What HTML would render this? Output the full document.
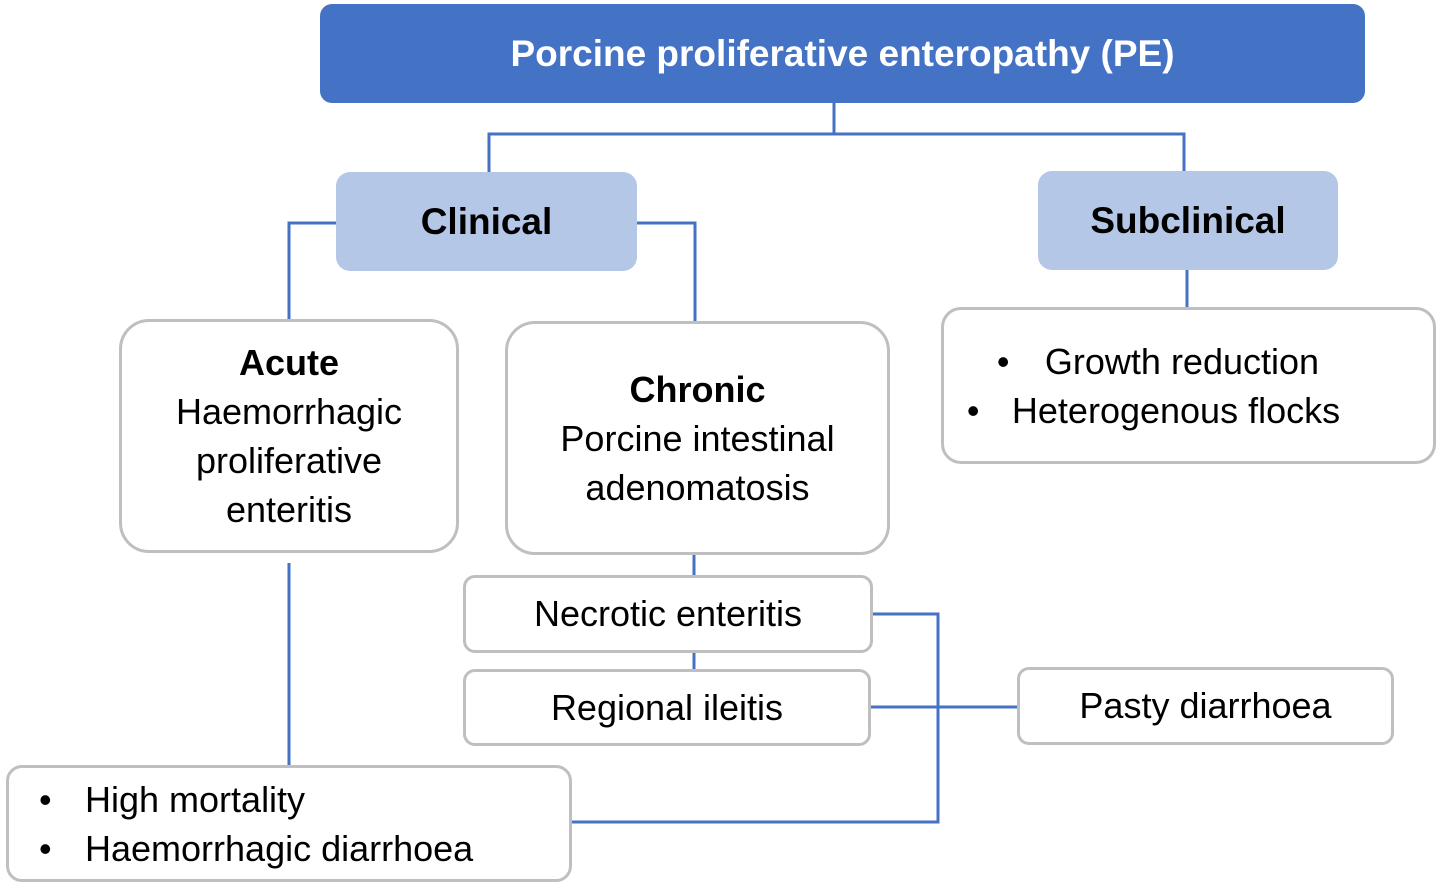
<!DOCTYPE html>
<html><head><meta charset="utf-8"><style>
body{margin:0;width:1441px;height:888px;background:#fff;position:relative;overflow:hidden;font-family:"Liberation Sans",Arial,sans-serif;}
.b{position:absolute;box-sizing:border-box;display:flex;align-items:center;justify-content:center;text-align:center;color:#000;}
.g{border:3px solid #bfbfbf;background:#fff;}
ul{margin:0;padding:0;list-style:none;text-align:left;}
li{position:relative;padding-left:45px;}
li:before{content:"•";position:absolute;left:0;}
svg{position:absolute;left:0;top:0;}
</style></head><body>
<svg width="1441" height="888"><g stroke="#4472C4" stroke-width="3" fill="none">
<polyline points="834,103 834,134"/>
<polyline points="489,172 489,134 1184,134 1184,171"/>
<polyline points="336,223 289,223 289,319"/>
<polyline points="637,223 695,223 695,321"/>
<polyline points="1187,270 1187,307"/>
<polyline points="694,555 694,575"/>
<polyline points="694,653 694,669"/>
<polyline points="289,563 289,765"/>
<polyline points="873,614 938,614 938,822 572,822"/>
<polyline points="871,707 1017,707"/>
</g></svg>
<div class="b" style="left:320px;top:4px;width:1045px;height:99px;background:#4472C4;border-radius:12px;color:#fff;font-weight:bold;font-size:37px;">Porcine proliferative enteropathy (PE)</div>
<div class="b" style="left:336px;top:172px;width:301px;height:99px;background:#B4C7E7;border-radius:14px;font-weight:bold;font-size:37px;">Clinical</div>
<div class="b" style="left:1038px;top:171px;width:300px;height:99px;background:#B4C7E7;border-radius:14px;font-weight:bold;font-size:37px;">Subclinical</div>
<div class="b g" style="left:119px;top:319px;width:340px;height:234px;border-radius:30px;font-size:36px;line-height:49px;"><div><b>Acute</b><br>Haemorrhagic<br>proliferative<br>enteritis</div></div>
<div class="b g" style="left:505px;top:321px;width:385px;height:234px;border-radius:30px;font-size:36px;line-height:49px;"><div><b>Chronic</b><br>Porcine intestinal<br>adenomatosis</div></div>
<div class="b g" style="left:941px;top:307px;width:495px;height:157px;border-radius:20px;font-size:36px;line-height:49px;"><ul style="margin-left:-10px"><li style="padding-left:48px">Growth reduction</li><li style="left:-30px">Heterogenous flocks</li></ul></div>
<div class="b g" style="left:463px;top:575px;width:410px;height:78px;border-radius:12px;font-size:36px;">Necrotic enteritis</div>
<div class="b g" style="left:463px;top:669px;width:408px;height:77px;border-radius:12px;font-size:36px;">Regional ileitis</div>
<div class="b g" style="left:1017px;top:667px;width:377px;height:78px;border-radius:12px;font-size:36px;">Pasty diarrhoea</div>
<div class="b g" style="left:6px;top:765px;width:566px;height:117px;border-radius:16px;font-size:36px;line-height:49px;justify-content:flex-start;padding-left:30px;"><ul><li style="padding-left:46px">High mortality</li><li style="padding-left:46px">Haemorrhagic diarrhoea</li></ul></div>
</body></html>
